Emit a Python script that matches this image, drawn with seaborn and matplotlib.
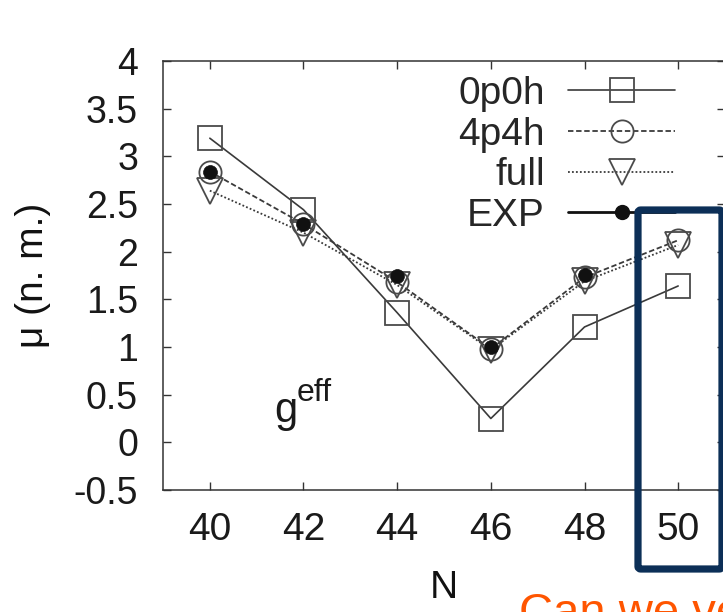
import matplotlib
matplotlib.use("Agg")
import matplotlib.pyplot as plt
import seaborn as sns
import pandas as pd
from matplotlib.lines import Line2D
from matplotlib.patches import FancyBboxPatch

# ---- data ----
N = [40, 42, 44, 46, 48, 50]
mu_0p0h = [3.19, 2.44, 1.36, 0.25, 1.21, 1.64]
mu_4p4h = [2.84, 2.29, 1.68, 0.98, 1.73, 2.12]
mu_full = [2.64, 2.20, 1.65, 0.97, 1.69, 2.07]
N_exp = [40, 42, 44, 46, 48]
mu_exp = [2.84, 2.29, 1.74, 1.00, 1.76]
series_labels = ["0p0h", "4p4h", "full", "EXP"]
xticks = [40, 42, 44, 46, 48, 50]
yticks = [-0.5, 0, 0.5, 1, 1.5, 2, 2.5, 3, 3.5, 4]
ytick_labels = ["-0.5", "0", "0.5", "1", "1.5", "2", "2.5", "3", "3.5", "4"]

sns.set_style("ticks")
plt.rcParams["font.family"] = ["Liberation Sans", "DejaVu Sans"]

W, H = 723, 612
fig = plt.figure(figsize=(W / 100, H / 100), dpi=100)
ax = fig.add_axes([163 / W, 1 - 490 / H, (725 - 163) / W, (490 - 61) / H])

line_col = "#3a3a3a"
edge_col = "#4a4a4a"

df = pd.DataFrame({"N": N, "0p0h": mu_0p0h, "4p4h": mu_4p4h, "full": mu_full})
dexp = pd.DataFrame({"N": N_exp, "EXP": mu_exp})

sns.lineplot(data=df, x="N", y="0p0h", ax=ax, color=line_col, lw=1.2,
             marker="s", markersize=17, markerfacecolor="none",
             markeredgecolor=edge_col, markeredgewidth=1.3, label="0p0h")
sns.lineplot(data=df, x="N", y="4p4h", ax=ax, color=line_col, lw=1.3,
             linestyle=(0, (3, 1.5)), marker="o", markersize=16,
             markerfacecolor="none", markeredgecolor=edge_col,
             markeredgewidth=1.3, label="4p4h")
sns.lineplot(data=df, x="N", y="full", ax=ax, color=line_col, lw=1.3,
             linestyle=(0, (1, 1.2)), marker="v", markersize=19,
             markerfacecolor="none", markeredgecolor=edge_col,
             markeredgewidth=1.3, label="full")
sns.lineplot(data=dexp, x="N", y="EXP", ax=ax, color="#111111", lw=0,
             linestyle="", marker="o", markersize=10,
             markerfacecolor="#111111", markeredgecolor="#111111",
             markeredgewidth=0.5, label="EXP")

ax.set_xlim(39, 51)
ax.set_ylim(-0.5, 4)
ax.set_xticks(xticks)
ax.set_xticklabels([str(v) for v in xticks], fontsize=28, color="#1a1a1a")
ax.set_yticks(yticks)
ax.set_yticklabels(ytick_labels, fontsize=27, color="#1a1a1a")
ax.tick_params(direction="in", length=6, width=1.0, color="#333333",
               top=True, right=True)
ax.tick_params(axis="x", pad=16)
ax.tick_params(axis="y", pad=18)
for s in ax.spines.values():
    s.set_visible(True)
    s.set_color("#333333")
    s.set_linewidth(1.1)

ax.set_xlabel("N", fontsize=28, color="#111111", labelpad=16)
ax.set_ylabel("μ (n. m.)", fontsize=28, color="#111111", labelpad=16)

ax.text(41.38, 0.21, "g", fontsize=30, color="#1a1a1a",
        ha="left", va="baseline")
ax.text(41.86, 0.43, "eff", fontsize=23, color="#1a1a1a",
        ha="left", va="baseline")

handles = [
    Line2D([], [], color=line_col, lw=1.2, marker="s", markersize=17,
           markerfacecolor="none", markeredgecolor=edge_col, markeredgewidth=1.3),
    Line2D([], [], color=line_col, lw=1.3, linestyle=(0, (3, 1.5)), marker="o",
           markersize=16, markerfacecolor="none", markeredgecolor=edge_col,
           markeredgewidth=1.3),
    Line2D([], [], color=line_col, lw=1.3, linestyle=(0, (1, 1.2)), marker="v",
           markersize=19, markerfacecolor="none", markeredgecolor=edge_col,
           markeredgewidth=1.3),
    Line2D([], [], color="#111111", lw=2.0, marker="o", markersize=10,
           markerfacecolor="#111111", markeredgecolor="#111111"),
]
ax.legend(handles, series_labels, loc="upper right",
          bbox_to_anchor=(675 / W, 1 - 76 / H), bbox_transform=fig.transFigure,
          frameon=False, markerfirst=False, fontsize=28, handlelength=2.75,
          handletextpad=0.6, labelspacing=0.12, borderpad=0, borderaxespad=0,
          numpoints=1)

# highlight box
box = FancyBboxPatch((638 / W, 43 / H), 84 / W, 359 / H,
                     boxstyle="round,pad=0,rounding_size=0.004",
                     transform=fig.transFigure, fill=False,
                     edgecolor="#0c2f57", linewidth=5.2, joinstyle="round",
                     zorder=10)
fig.add_artist(box)

fig.text(519 / W, -14 / H, "Can we verify", fontsize=34, color="#ff5500",
         ha="left", va="baseline")

fig.savefig("out.png", dpi=100)
